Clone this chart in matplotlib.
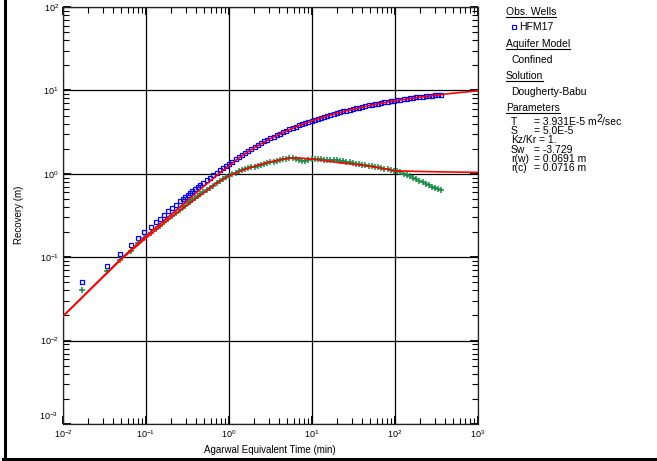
import matplotlib
matplotlib.use("Agg")
import matplotlib.pyplot as plt
from matplotlib.lines import Line2D
from matplotlib.ticker import LogLocator, NullFormatter, FuncFormatter

plt.rcParams['font.family'] = ['Liberation Sans', 'DejaVu Sans']
plt.rcParams['mathtext.fontset'] = 'custom'
plt.rcParams['mathtext.rm'] = 'Liberation Sans'
plt.rcParams['mathtext.it'] = 'Liberation Sans:italic'
plt.rcParams['mathtext.bf'] = 'Liberation Sans:bold'

# --- observed recovery at well HFM17 (Agarwal equivalent time, min) ---
t_obs = [0.0168, 0.0336, 0.0486, 0.066, 0.0807, 0.0955, 0.115, 0.131, 0.148, 0.165,
         0.184, 0.206, 0.23, 0.257, 0.28, 0.295, 0.32, 0.339, 0.36, 0.389,
         0.42, 0.448, 0.49, 0.538, 0.59, 0.646, 0.71, 0.776, 0.85, 0.93,
         1.0, 1.09, 1.2, 1.31, 1.43, 1.56, 1.7, 1.86, 2.03, 2.22,
         2.42, 2.64, 2.89, 3.15, 3.44, 3.76, 4.1, 4.48, 4.89, 5.34,
         5.83, 6.37, 6.95, 7.59, 8.29, 9.05, 9.88, 10.8, 11.8, 12.9,
         14.0, 15.3, 16.7, 18.3, 20.0, 21.8, 23.8, 26.0, 28.4, 31.0,
         33.8, 36.9, 40.3, 44.0, 48.1, 52.5, 57.3, 62.6, 68.3, 74.6,
         81.5, 89.0, 97.1, 106, 116, 127, 138, 151, 165, 180,
         197, 215, 234, 256, 280, 305, 333, 355]

recovery = [0.0506, 0.079, 0.109, 0.140, 0.172, 0.201, 0.229, 0.265, 0.291, 0.319,
            0.356, 0.390, 0.428, 0.469, 0.505, 0.528, 0.562, 0.589, 0.616, 0.653,
            0.693, 0.729, 0.780, 0.837, 0.897, 0.957, 1.028, 1.099, 1.175, 1.254,
            1.32, 1.40, 1.494, 1.584, 1.678, 1.776, 1.877, 1.988, 2.099, 2.214,
            2.326, 2.441, 2.561, 2.677, 2.797, 2.919, 3.040, 3.166, 3.291, 3.420,
            3.549, 3.680, 3.809, 3.940, 4.072, 4.203, 4.332, 4.464, 4.595, 4.726,
            4.845, 4.972, 5.097, 5.226, 5.350, 5.472, 5.598, 5.724, 5.850, 5.976,
            6.10, 6.225, 6.351, 6.475, 6.599, 6.721, 6.841, 6.96, 7.077, 7.192,
            7.307, 7.416, 7.522, 7.628, 7.736, 7.842, 7.937, 8.038, 8.137, 8.235,
            8.33, 8.418, 8.502, 8.59, 8.674, 8.75, 8.825, 8.883]

derivative = [0.040, 0.0686, 0.092, 0.119, 0.146, 0.168, 0.196, 0.217, 0.239, 0.261,
              0.285, 0.311, 0.340, 0.371, 0.397, 0.415, 0.443, 0.463, 0.486, 0.515,
              0.545, 0.571, 0.610, 0.646, 0.684, 0.723, 0.767, 0.811, 0.855, 0.904,
              0.946, 0.983, 1.026, 1.067, 1.101, 1.130, 1.160, 1.191, 1.223, 1.254,
              1.282, 1.310, 1.341, 1.370, 1.402, 1.431, 1.461, 1.492, 1.523, 1.544,
              1.563, 1.520, 1.462, 1.415, 1.432, 1.452, 1.494, 1.497, 1.495, 1.490,
              1.480, 1.472, 1.469, 1.464, 1.445, 1.427, 1.408, 1.389, 1.370, 1.348,
              1.325, 1.303, 1.280, 1.259, 1.241, 1.226, 1.210, 1.193, 1.172, 1.152,
              1.132, 1.112, 1.093, 1.068, 1.038, 1.001, 0.968, 0.934, 0.902, 0.865,
              0.827, 0.793, 0.761, 0.731, 0.703, 0.677, 0.651, 0.633]

# --- Dougherty-Babu type curve and its derivative ---
t_fit = [0.01, 0.02, 0.05, 0.1, 0.2, 0.3, 0.514, 0.7, 1.0, 1.4, 2.0, 3.0, 5.0,
         7.0, 10, 14, 20, 30, 50, 70, 100, 200, 300, 500, 1000]
fit_recovery = [0.0196, 0.039, 0.096, 0.18, 0.325, 0.46, 0.729, 0.945, 1.26, 1.62,
                2.05, 2.58, 3.30, 3.80, 4.32, 4.83, 5.33, 5.90, 6.62, 7.06, 7.55,
                8.29, 8.72, 9.26, 9.9]
fit_derivative = [0.0196, 0.0385, 0.094, 0.17, 0.30, 0.41, 0.607, 0.77, 0.946, 1.09,
                  1.23, 1.38, 1.53, 1.55, 1.50, 1.44, 1.37, 1.31, 1.23, 1.16, 1.087,
                  1.066, 1.058, 1.05, 1.04]

# --- side panel text ---
well_name = "HFM17"
aquifer_model = "Confined"
solution_name = "Dougherty-Babu"
param_names = ["T", "S", "Kz/Kr", "Sw", "r(w)", "r(c)"]
param_values = ["= 3.931E-5 m", "= 5.0E-5", "= 1.", "= -3.729", "= 0.0691 m", "= 0.0716 m"]

W, H = 657, 461
fig = plt.figure(figsize=(W / 100, H / 100), dpi=100)
ax = fig.add_axes([63 / W, (H - 424) / H, 415 / W, 417 / H])

ax.plot(t_obs, recovery, ls='none', marker='s', ms=3.3, mfc='none',
        mec='#0000ff', mew=0.9, zorder=3)
ax.plot(t_obs, derivative, ls='none', marker='+', ms=4.3,
        mec='#178a45', mew=1.1, zorder=3)
ax.plot(t_fit, fit_recovery, color='#ff0000', lw=1.2, zorder=4)
ax.plot(t_fit, fit_derivative, color='#ff0000', lw=1.2, zorder=4)

ax.set_xscale('log')
ax.set_yscale('log')
ax.set_xlim(1e-2, 1e3)
ax.set_ylim(1e-3, 1e2)
for axis in (ax.xaxis, ax.yaxis):
    axis.set_major_locator(LogLocator(base=10, numticks=12))
    axis.set_minor_locator(LogLocator(base=10, subs=range(2, 10), numticks=12))
    axis.set_minor_formatter(NullFormatter())


def decade_label(v, pos):
    e = int(round(__import__('math').log10(v)))
    return r'$\mathdefault{10^{%d}}$' % e


def y_decade_label(v, pos):
    # the lowest decade label is drawn separately, lifted clear of the x labels
    if v < 2e-3:
        return ''
    return decade_label(v, pos)


ax.xaxis.set_major_formatter(FuncFormatter(decade_label))
ax.yaxis.set_major_formatter(FuncFormatter(y_decade_label))

ax.grid(True, which='major', color='black', lw=0.9, zorder=1)
ax.set_axisbelow(True)
ax.tick_params(which='both', direction='in', top=True, right=True,
               labelsize=6.5, colors='black')
ax.tick_params(which='major', length=6, width=1.3, pad=3)
ax.tick_params(which='minor', length=4, width=0.8)
for sp in ax.spines.values():
    sp.set_color('#222222')
    sp.set_linewidth(0.9)


def px(x, y):
    return x / W, 1 - y / H


fig.text(*px(57.5, 416), r'$\mathdefault{10^{-3}}$', ha='right', va='center', fontsize=6.5)

fig.text(*px(19, 215), "Recovery (m)", rotation=90, ha='center', va='center', fontsize=7)
fig.text(*px(270, 450), "Agarwal Equivalent Time (min)", ha='center', va='center', fontsize=7)

# outer frame (left and bottom edges)
fig.add_artist(Line2D([4.5 / W, 4.5 / W], [1, (H - 458.5) / H], transform=fig.transFigure,
                      color='black', lw=2.2))
fig.add_artist(Line2D([3 / W, 1], [(H - 458.5) / H, (H - 458.5) / H], transform=fig.transFigure,
                      color='black', lw=2.2))

fs = 7.5
renderer = fig.canvas.get_renderer()


def heading(x, y, s):
    t = fig.text(*px(x, y), s, ha='left', va='center', fontsize=fs)
    bb = t.get_window_extent(renderer=renderer)
    yl = y + 5
    fig.add_artist(Line2D([bb.x0 / W, bb.x1 / W], [1 - yl / H, 1 - yl / H],
                          transform=fig.transFigure, color='black', lw=0.8))


heading(506, 12, "Obs. Wells")
fig.add_artist(Line2D([514 / W], [1 - 27 / H], transform=fig.transFigure, ls='none',
                      marker='s', ms=2.6, mfc='none', mec='#0000ff', mew=0.8))
fig.text(*px(519, 27), well_name, ha='left', va='center', fontsize=fs)
heading(506, 44, "Aquifer Model")
fig.text(*px(511, 60), aquifer_model, ha='left', va='center', fontsize=fs)
heading(506, 76, "Solution")
fig.text(*px(511, 92), solution_name, ha='left', va='center', fontsize=fs)
heading(506, 108, "Parameters")

y0, dy = 122, 9.2
for i, (name, val) in enumerate(zip(param_names, param_values)):
    y = y0 + i * dy
    tn = fig.text(*px(511, y), name, ha='left', va='center', fontsize=fs)
    bn = tn.get_window_extent(renderer=renderer)
    xv = max(534, bn.x1 + 3)
    tv = fig.text(xv / W, 1 - y / H, val, ha='left', va='center', fontsize=fs)
    if i == 0:
        bb = tv.get_window_extent(renderer=renderer)
        t2 = fig.text(bb.x1 / W, 1 - (y - 3) / H, "2", ha='left', va='center', fontsize=fs)
        bb2 = t2.get_window_extent(renderer=renderer)
        fig.text(bb2.x1 / W, 1 - y / H, "/sec", ha='left', va='center', fontsize=fs)

fig.savefig("out.png", dpi=100)
